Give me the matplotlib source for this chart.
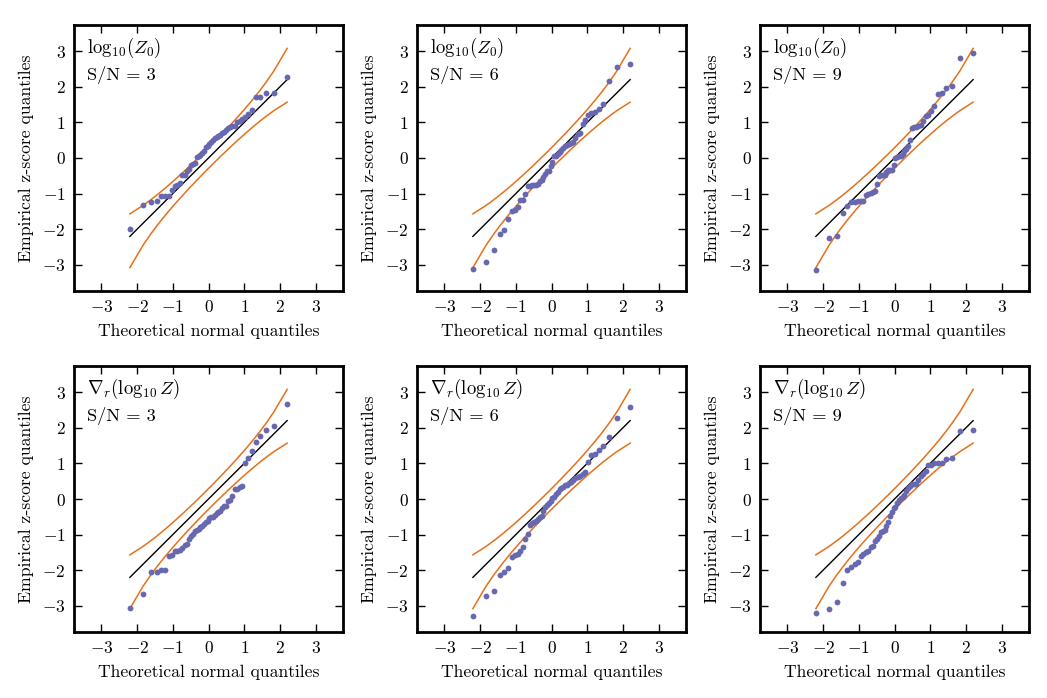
import numpy as np
import matplotlib
matplotlib.use("Agg")
import matplotlib.pyplot as plt
from statistics import NormalDist

plt.rcParams['font.family'] = 'cmr10'
plt.rcParams['mathtext.fontset'] = 'cm'
plt.rcParams['axes.formatter.use_mathtext'] = True

N = 50
titles = [r"$\log_{10}\!(Z_0)$", r"$\log_{10}\!(Z_0)$", r"$\log_{10}\!(Z_0)$",
          r"$\nabla_r(\log_{10}Z)$", r"$\nabla_r(\log_{10}Z)$", r"$\nabla_r(\log_{10}Z)$"]
snr_labels = ["S/N = 3", "S/N = 6", "S/N = 9", "S/N = 3", "S/N = 6", "S/N = 9"]

z0_sn3 = [-1.99, -1.33, -1.25, -1.21, -1.07, -1.07, -1.06, -0.90, -0.79, -0.75,
          -0.70, -0.49, -0.49, -0.37, -0.30, -0.21, -0.18, -0.14, 0.02, 0.05,
          0.09, 0.14, 0.21, 0.31, 0.35, 0.39, 0.44, 0.51, 0.56, 0.59,
          0.63, 0.66, 0.70, 0.73, 0.78, 0.83, 0.88, 0.89, 0.90, 1.00,
          1.03, 1.09, 1.15, 1.24, 1.36, 1.71, 1.71, 1.82, 1.84, 2.27]
z0_sn6 = [-3.11, -2.93, -2.59, -2.14, -2.02, -1.71, -1.48, -1.45, -1.37, -1.19,
          -1.18, -1.00, -0.79, -0.78, -0.77, -0.75, -0.75, -0.72, -0.65, -0.63,
          -0.53, -0.44, -0.37, -0.36, -0.23, -0.12, 0.05, 0.07, 0.12, 0.16,
          0.23, 0.28, 0.33, 0.36, 0.39, 0.42, 0.44, 0.56, 0.67, 0.69,
          0.95, 1.06, 1.21, 1.27, 1.28, 1.39, 1.51, 2.17, 2.57, 2.64]
z0_sn9 = [-3.15, -2.25, -2.19, -1.55, -1.36, -1.24, -1.23, -1.22, -1.22, -1.21,
          -1.05, -1.01, -0.99, -0.95, -0.93, -0.72, -0.50, -0.49, -0.49, -0.47,
          -0.39, -0.34, -0.33, -0.33, -0.20, 0.00, 0.03, 0.05, 0.05, 0.12,
          0.20, 0.25, 0.33, 0.51, 0.85, 0.87, 0.88, 0.91, 0.94, 1.03,
          1.17, 1.21, 1.33, 1.46, 1.79, 1.83, 1.97, 2.02, 2.81, 2.95]
grad_sn3 = [-3.07, -2.66, -2.06, -2.06, -2.01, -1.99, -1.60, -1.57, -1.46, -1.46,
            -1.43, -1.38, -1.30, -1.27, -1.13, -1.03, -0.98, -0.90, -0.87, -0.83,
            -0.79, -0.75, -0.70, -0.65, -0.61, -0.53, -0.51, -0.50, -0.45, -0.40,
            -0.36, -0.35, -0.25, -0.21, -0.21, -0.07, -0.03, 0.09, 0.27, 0.28,
            0.33, 0.36, 1.02, 1.16, 1.34, 1.59, 1.77, 1.93, 2.04, 2.68]
grad_sn6 = [-3.28, -2.73, -2.59, -2.14, -2.06, -1.93, -1.64, -1.57, -1.55, -1.46,
            -1.36, -1.12, -0.99, -0.73, -0.67, -0.64, -0.61, -0.55, -0.51, -0.48,
            -0.35, -0.23, -0.17, -0.11, -0.07, 0.02, 0.07, 0.14, 0.21, 0.28,
            0.31, 0.35, 0.38, 0.40, 0.45, 0.49, 0.53, 0.59, 0.61, 0.64,
            0.69, 0.77, 1.05, 1.24, 1.27, 1.39, 1.50, 1.75, 2.27, 2.60]
grad_sn9 = [-3.21, -3.09, -2.91, -2.35, -2.01, -1.90, -1.82, -1.78, -1.61, -1.54,
            -1.50, -1.46, -1.36, -1.32, -1.17, -1.13, -1.04, -0.93, -0.89, -0.87,
            -0.76, -0.64, -0.47, -0.37, -0.26, -0.23, -0.11, -0.03, 0.03, 0.07,
            0.11, 0.23, 0.31, 0.37, 0.41, 0.42, 0.42, 0.53, 0.64, 0.70,
            0.79, 0.96, 0.97, 1.00, 1.01, 1.02, 1.13, 1.14, 1.90, 1.93]
series = [z0_sn3, z0_sn6, z0_sn9, grad_sn3, grad_sn6, grad_sn9]

tick_vals = [-3, -2, -1, 0, 1, 2, 3]

# Theoretical normal quantiles (Filliben order statistic medians, as in probplot)
nd = NormalDist()
i = np.arange(1, N + 1)
m = (i - 0.3175) / (N + 0.365)
m[0] = 1 - 0.5 ** (1.0 / N)
m[-1] = 0.5 ** (1.0 / N)
xq = np.array([nd.inv_cdf(p) for p in m])

# 90% pointwise envelope from order-statistic Beta(i, N+1-i) distributions
pgrid = np.linspace(1e-7, 1 - 1e-7, 400001)
lo_b, hi_b = [], []
for k in i:
    a, b = k, N + 1 - k
    lp = (a - 1) * np.log(pgrid) + (b - 1) * np.log1p(-pgrid)
    pdf = np.exp(lp - lp.max())
    cdf = np.cumsum(pdf)
    cdf /= cdf[-1]
    lo_b.append(nd.inv_cdf(float(np.interp(0.05, cdf, pgrid))))
    hi_b.append(nd.inv_cdf(float(np.interp(0.95, cdf, pgrid))))
lo_b = np.array(lo_b)
hi_b = np.array(hi_b)

W, H = 1047, 698
fig = plt.figure(figsize=(W / 100, H / 100), dpi=100)
lefts = [74, 417, 760]
tops = [25, 366]
aw, ah = 269, 266

point_color = '#6868b0'
band_color = '#e6701a'

for idx, ys in enumerate(series):
    r, c = divmod(idx, 3)
    ax = fig.add_axes([lefts[c] / W, 1 - (tops[r] + ah) / H, aw / W, ah / H])
    ax.plot(xq, hi_b, color=band_color, lw=1.1)
    ax.plot(xq, lo_b, color=band_color, lw=1.1)
    ax.plot([xq[0], xq[-1]], [xq[0], xq[-1]], color='black', lw=1.0)
    ax.plot(xq, ys, 'o', color=point_color, ms=4.2, mew=0)
    ax.set_xlim(-3.77, 3.77)
    ax.set_ylim(-3.74, 3.74)
    ax.set_xticks(tick_vals)
    ax.set_yticks(tick_vals)
    ax.tick_params(direction='in', top=True, right=True, length=6, width=1,
                   labelsize=12.5, pad=6)
    for sp in ax.spines.values():
        sp.set_linewidth(2)
    ax.set_xlabel("Theoretical normal quantiles", fontsize=12.7, labelpad=6)
    ax.set_ylabel("Empirical z-score quantiles", fontsize=12.7, labelpad=6)
    ax.text(0.05, 0.96, titles[idx], transform=ax.transAxes, fontsize=13.5,
            va='top', ha='left')
    ax.text(0.05, 0.845, snr_labels[idx], transform=ax.transAxes, fontsize=13.2,
            va='top', ha='left')

fig.savefig("out.png", dpi=100)
